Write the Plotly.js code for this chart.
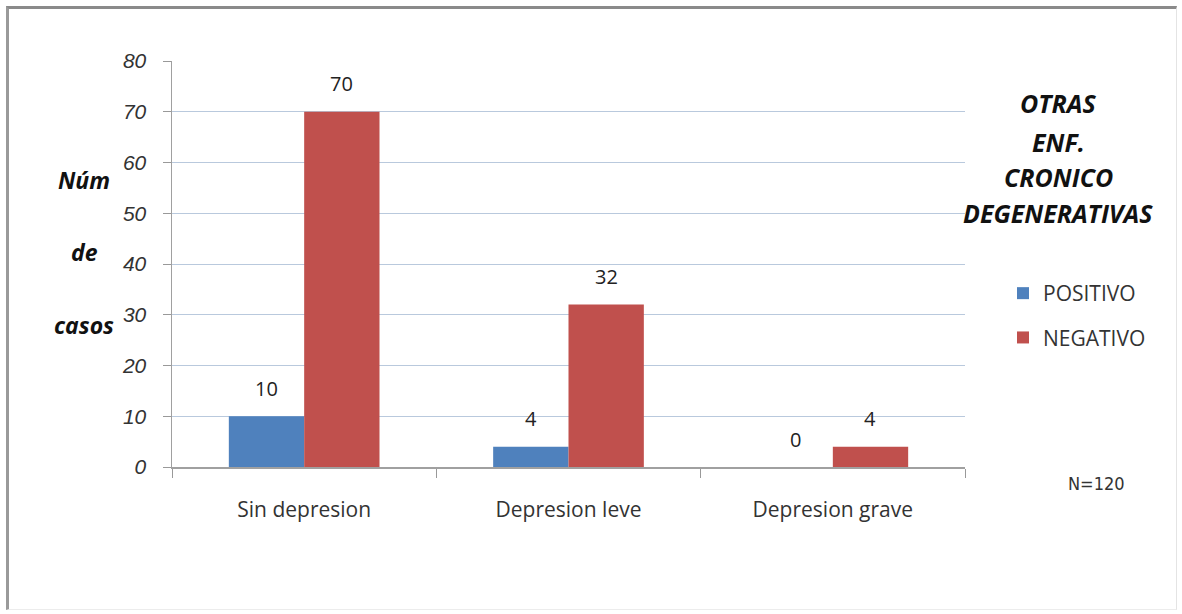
<!DOCTYPE html>
<html>
<head>
<meta charset="utf-8">
<script src="https://cdn.plot.ly/plotly-3.0.1.min.js"></script>
<style>
  html, body { margin: 0; padding: 0; background: #fff; }
  #frame { position: absolute; left: 6px; top: 6px; width: 1171px; height: 604px;
           border-top: 3px solid #8a8a8a; border-left: 3px solid #9a9a9a;
           border-right: 1px solid #e4e4e4; border-bottom: 1px solid #ececec; box-sizing: border-box; }
  #chart { position: absolute; left: 0; top: 0; width: 1182px; height: 614px; }
</style>
</head>
<body>
<div id="frame"></div>
<div id="chart"></div>
<script>
// Casos por nivel de depresión, según otras enfermedades crónico-degenerativas
const categorias = ['Sin depresion', 'Depresion leve', 'Depresion grave'];
const positivo = [10, 4, 0];
const negativo = [70, 32, 4];
const nombresSeries = ['POSITIVO', 'NEGATIVO'];
const coloresSeries = ['#4f81bd', '#c0504d'];
const yTicks = [0, 10, 20, 30, 40, 50, 60, 70, 80];
const tituloY = ['Núm', 'de', 'casos'];
const tituloLeyenda = ['OTRAS', 'ENF.', 'CRONICO', 'DEGENERATIVAS'];
const notaN = 'N=120';

const sans = 'Open Sans, Noto Sans, sans-serif';
const series = [positivo, negativo];

const traces = series.map((vals, i) => ({
  type: 'bar', name: nombresSeries[i], x: categorias, y: vals,
  marker: { color: coloresSeries[i] },
  legendgroup: 'g' + i, hoverinfo: 'x+y'
}));

const annotations = [];

// value labels above each bar, offset half a bar width left/right of the category centre
const halfBar = 37.6;
series.forEach((vals, i) => {
  vals.forEach((v, j) => {
    annotations.push({
      xref: 'x', yref: 'y', x: categorias[j], y: v, text: String(v), showarrow: false,
      xanchor: 'center', yanchor: 'middle', xshift: (i === 0 ? -halfBar : halfBar), yshift: 28,
      font: { family: sans, size: 20, color: '#222' }
    });
  });
});

// y-axis title, three stacked lines
const yTitlePos = [180, 252, 325];
tituloY.forEach((t, i) => {
  annotations.push({
    xref: 'paper', yref: 'paper', x: 0, y: 0, text: t, showarrow: false,
    xanchor: 'center', yanchor: 'middle',
    xshift: 84 - 172, yshift: 467 - yTitlePos[i],
    font: { family: sans, size: 23, color: '#111', weight: 'bold', style: 'italic' }
  });
});

// legend heading
const legTitlePos = [103, 142, 177, 213];
tituloLeyenda.forEach((t, i) => {
  annotations.push({
    xref: 'paper', yref: 'paper', x: 1, y: 0, text: t, showarrow: false,
    xanchor: 'center', yanchor: 'middle',
    xshift: 1058 - 965, yshift: 467 - legTitlePos[i],
    font: { family: sans, size: 25, color: '#111', weight: 'bold', style: 'italic' }
  });
});

annotations.push({
  xref: 'paper', yref: 'paper', x: 1, y: 0, text: notaN, showarrow: false,
  xanchor: 'center', yanchor: 'middle', xshift: 1096 - 965, yshift: 467 - 483,
  font: { family: 'DejaVu Sans Condensed, Liberation Sans Narrow, sans-serif', size: 18, color: '#333', stretch: 'condensed' }
});

const layout = {
  width: 1182, height: 614,
  margin: { l: 172, r: 217, t: 61, b: 147 },
  paper_bgcolor: 'rgba(0,0,0,0)', plot_bgcolor: '#fff',
  barmode: 'group', bargap: 0.43, bargroupgap: 0,
  showlegend: true,
  legend: {
    x: (1003 - 172) / 793, xanchor: 'left', y: (467 - 273) / 406, yanchor: 'top',
    font: { family: sans, size: 21, color: '#333' },
    tracegroupgap: 14, traceorder: 'grouped', bgcolor: 'rgba(0,0,0,0)'
  },
  xaxis: {
    type: 'category', tickson: 'boundaries', ticks: 'outside', ticklen: 9,
    tickcolor: '#999', showline: true, linecolor: '#a0a0a0', linewidth: 1.5,
    tickfont: { family: sans, size: 21, color: '#333' },
    ticklabelstandoff: 23,
    showgrid: false, automargin: false, fixedrange: true
  },
  yaxis: {
    range: [0, 80], tickvals: yTicks, ticktext: yTicks.map(String),
    ticks: 'outside', ticklen: 8, tickcolor: '#999',
    showline: true, linecolor: '#a0a0a0', linewidth: 1.5,
    gridcolor: '#b9c9dd', gridwidth: 1, zeroline: false,
    tickfont: { family: 'Liberation Sans, Arial, sans-serif', size: 21, color: '#333', style: 'italic' },
    ticklabelstandoff: 12, automargin: false, fixedrange: true
  },
  annotations: annotations
};

Plotly.newPlot('chart', traces, layout, { displayModeBar: false, staticPlot: true });
</script>
</body>
</html>
